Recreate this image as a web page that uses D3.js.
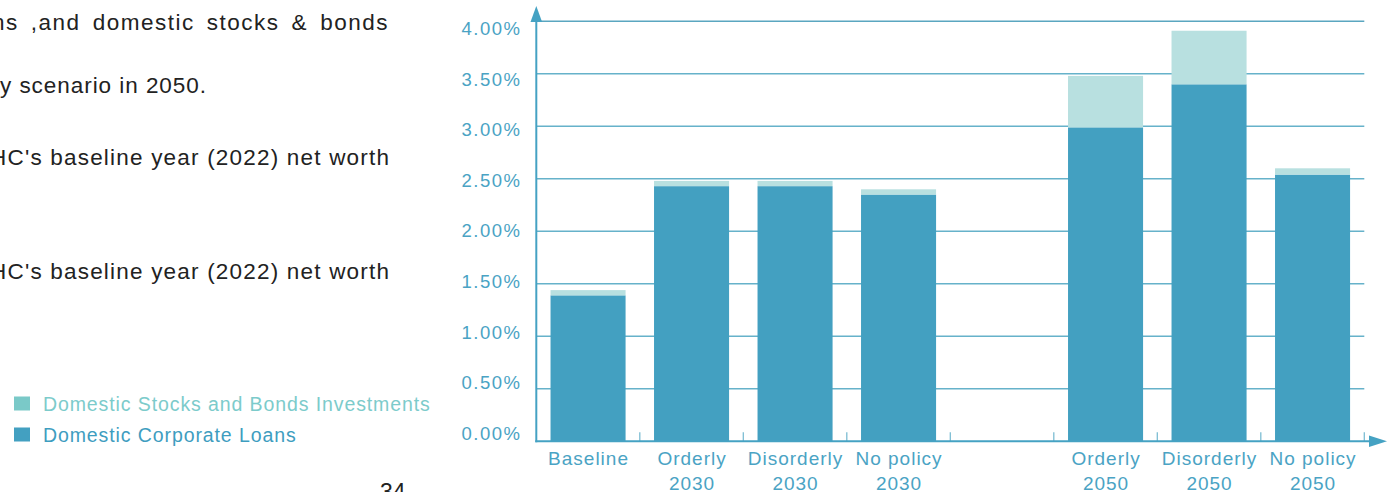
<!DOCTYPE html>
<html>
<head>
<meta charset="utf-8">
<script src="https://cdn.jsdelivr.net/npm/d3@7/dist/d3.min.js"></script>
<style>
  html, body { margin: 0; padding: 0; background: #ffffff; overflow: hidden; }
  svg { display: block; }
  text { font-family: "Liberation Sans", Arial, Helvetica, sans-serif; }
</style>
</head>
<body>
<svg id="chart" width="1389" height="492"></svg>
<script>
// Scenario slots along the x axis (the fifth slot is an empty spacer)
const categories = ["Baseline", "Orderly 2030", "Disorderly 2030", "No policy 2030", "", "Orderly 2050", "Disorderly 2050", "No policy 2050"];
const categoryLines = [["Baseline"], ["Orderly", "2030"], ["Disorderly", "2030"], ["No policy", "2030"], [], ["Orderly", "2050"], ["Disorderly", "2050"], ["No policy", "2050"]];

// Loss as a share of net worth (%)
const corporateLoans = [1.39, 2.43, 2.43, 2.35, null, 2.99, 3.40, 2.54];
const stocksBonds    = [0.05, 0.05, 0.05, 0.05, null, 0.49, 0.51, 0.06];

const yTicks = [0, 0.5, 1, 1.5, 2, 2.5, 3, 3.5, 4];

const seriesNames = ["Domestic Stocks and Bonds Investments", "Domestic Corporate Loans"];

// Paragraph fragments on the left side of the page (justified column ending at x = 389)
const paragraphLines = [
  { text: "ns ,and domestic stocks & bonds", y: 30, x: -8, width: 397, justify: "words" },
  { text: "y scenario in 2050.", y: 93, x: 0, width: 206, justify: "letters" },
  { text: "HC's baseline year (2022) net worth", y: 165, x: -10, width: 399, justify: "letters" },
  { text: "HC's baseline year (2022) net worth", y: 279, x: -10, width: 399, justify: "letters" }
];

const COL_LOANS = "#43a0c1";
const COL_STOCKS = "#b8e0e0";
const COL_AXIS = "#45a2c3";
const COL_GRID = "#66b2ca";
const COL_LABEL = "#4aa3c4";

const svg = d3.select("#chart");

const x0 = 536.3, x1 = 1364.3;
const yZero = 441.3, yTop = 21.3;

const x = d3.scaleBand()
  .domain(d3.range(categories.length))
  .range([x0, x1])
  .paddingInner(0.275)
  .paddingOuter(0.1375);

const y = d3.scaleLinear().domain([0, 4]).range([yZero, yTop]);
// tick labels sit on a slightly tighter spacing than the gridlines
const yLabel = d3.scaleLinear().domain([0, 4]).range([433.5, 28.5]);

// Gridlines
svg.append("g")
  .selectAll("line")
  .data(yTicks.filter(d => d > 0))
  .join("line")
  .attr("x1", x0).attr("x2", x1)
  .attr("y1", d => y(d)).attr("y2", d => y(d))
  .attr("stroke", d => d === 4 ? "#5aa6c0" : COL_GRID)
  .attr("stroke-width", 1.6);

// Stacked bars
const rows = categories.map((c, i) => ({ i, loans: corporateLoans[i], stocks: stocksBonds[i] }))
  .filter(d => d.loans != null);

const bars = svg.append("g");
bars.selectAll("rect.loans")
  .data(rows)
  .join("rect")
  .attr("class", "loans")
  .attr("x", d => x(d.i))
  .attr("width", x.bandwidth())
  .attr("y", d => y(d.loans))
  .attr("height", d => y(0) - y(d.loans))
  .attr("fill", COL_LOANS);

bars.selectAll("rect.stocks")
  .data(rows)
  .join("rect")
  .attr("class", "stocks")
  .attr("x", d => x(d.i))
  .attr("width", x.bandwidth())
  .attr("y", d => y(d.loans + d.stocks))
  .attr("height", d => y(d.loans) - y(d.loans + d.stocks))
  .attr("fill", COL_STOCKS);

// Y tick labels
const yAxis = d3.axisLeft(yLabel)
  .tickValues(yTicks)
  .tickSize(0)
  .tickPadding(0)
  .tickFormat(d => d3.format(".2f")(d) + "%");
const gy = svg.append("g").attr("transform", "translate(521.5,0)").call(yAxis);
gy.select(".domain").remove();
gy.selectAll("text")
  .attr("fill", COL_LABEL)
  .style("font-size", "18.5px")
  .style("letter-spacing", "1.5px")
  .style("font-family", "\"Liberation Sans\", Arial, Helvetica, sans-serif");

// Slot separator ticks on the x axis
const step = x.step();
svg.append("g")
  .selectAll("line")
  .data(d3.range(1, categories.length + 1))
  .join("line")
  .attr("x1", i => x0 + i * step).attr("x2", i => x0 + i * step)
  .attr("y1", yZero).attr("y2", yZero - 9)
  .attr("stroke", "#7cbdd3")
  .attr("stroke-width", 1.3);

// Axis lines with arrowheads
svg.append("line")
  .attr("x1", x0).attr("x2", x0)
  .attr("y1", yZero + 1).attr("y2", 20)
  .attr("stroke", COL_AXIS).attr("stroke-width", 2);
svg.append("path")
  .attr("d", `M${x0},6 L${x0 + 5.8},22 L${x0 - 5.8},22 Z`)
  .attr("fill", COL_AXIS);

svg.append("line")
  .attr("x1", x0 - 1).attr("x2", 1372)
  .attr("y1", yZero).attr("y2", yZero)
  .attr("stroke", COL_AXIS).attr("stroke-width", 2);
svg.append("path")
  .attr("d", `M1387,${yZero} L1369,${yZero - 5.8} L1369,${yZero + 5.8} Z`)
  .attr("fill", COL_AXIS);

// X category labels
const gx = svg.append("g");
categories.forEach((c, i) => {
  const cx = x(i) + x.bandwidth() / 2 + 0.5;
  const t = gx.append("text")
    .attr("x", cx)
    .attr("y", 465)
    .attr("text-anchor", "middle")
    .attr("fill", COL_LABEL)
    .style("font-size", "19px")
    .style("letter-spacing", "1px");
  categoryLines[i].forEach((line, k) => {
    t.append("tspan")
      .attr("x", cx)
      .attr("dy", k === 0 ? 0 : 25)
      .text(line);
  });
});

// Legend
const legend = svg.append("g");
const legendColors = [{ sw: "#7ac9c8", txt: "#7ccbcb" }, { sw: COL_LOANS, txt: "#3e9dbf" }];
seriesNames.forEach((name, k) => {
  const yy = 396.5 + k * 31;
  legend.append("rect")
    .attr("x", 14).attr("y", yy)
    .attr("width", 16).attr("height", 14)
    .attr("fill", legendColors[k].sw);
  legend.append("text")
    .attr("x", 43).attr("y", yy + 14)
    .attr("fill", legendColors[k].txt)
    .style("font-size", "19.5px")
    .style("letter-spacing", "0.9px")
    .text(name);
});

// Paragraph text: justified lines widen their word gaps, the others track letters
const para = svg.append("g");
paragraphLines.forEach(p => {
  const t = para.append("text")
    .attr("x", p.x).attr("y", p.y)
    .attr("fill", "#222222")
    .style("font-size", "22.5px")
    .text(p.text);
  if (p.justify === "words") {
    t.style("letter-spacing", "1.5px");
    const natural = t.node().getComputedTextLength();
    const gaps = (p.text.match(/ /g) || []).length;
    t.style("word-spacing", Math.max(0, (p.width - natural) / gaps) + "px");
  } else {
    t.attr("textLength", p.width).attr("lengthAdjust", "spacing");
  }
});
svg.append("text")
  .attr("x", 380).attr("y", 500)
  .attr("fill", "#222222")
  .style("font-size", "23px")
  .text("34");
</script>
</body>
</html>
